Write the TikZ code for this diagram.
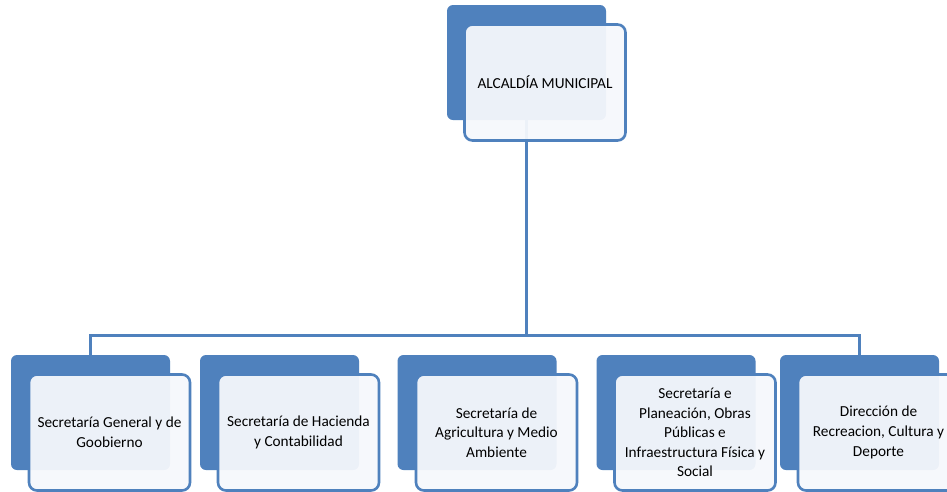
\documentclass[tikz,border=0pt]{standalone}
\usepackage{fontspec}
\setmainfont{Carlito}
\definecolor{orgblue}{HTML}{4F81BD}
\definecolor{orgfill}{RGB}{246,248,252}

\begin{document}
\begin{tikzpicture}[x=1pt, y=-1pt,
    back/.style={fill=orgblue, rounded corners=6pt, minimum width=159pt, minimum height=115pt, inner sep=0pt},
    front/.style={draw=orgblue, line width=2.6pt, fill=orgfill, fill opacity=0.94, text opacity=1,
        rounded corners=8pt, minimum width=161pt, minimum height=116pt, inner sep=0pt,
        align=center, font=\fontsize{15.3}{19.6}\selectfont},
    link/.style={orgblue, line width=3pt}]
    \useasboundingbox (0,0) rectangle (947,491);
    \clip (0,0) rectangle (947,491);
    \fill[white] (0,0) rectangle (947,491);
    \node[back] (alcaldiaB) at (526.5,62.5) {};
    \node[back] (generalB) at (90.5,412.5) {};
    \node[back] (haciendaB) at (279.5,412.5) {};
    \node[back] (agriculturaB) at (477,412.5) {};
    \node[back] (planeacionB) at (676,412.5) {};
    \node[back] (deporteB) at (859.5,412.5) {};
    \coordinate (bus) at (526.5,335);
    \draw[link] (alcaldiaB.south) -- (bus);
    \draw[link] (generalB.north) |- (bus) -| (deporteB.north);
    \node[front] (alcaldia) at (545,82.5) {ALCALDÍA MUNICIPAL};
    \node[front] (general) at (109.5,432.5) {Secretaría General y de\\Goobierno};
    \node[front] (hacienda) at (298.5,432.5) {Secretaría de Hacienda\\y Contabilidad};
    \node[front] (agricultura) at (496.5,432.5) {Secretaría de\\Agricultura y Medio\\Ambiente};
    \node[front] (planeacion) at (695,432.5) {Secretaría e\\Planeación, Obras\\Públicas e\\Infraestructura Física y\\Social};
    \node[front] (deporte) at (878.5,432.5) {Dirección de\\Recreacion, Cultura y\\Deporte};
\end{tikzpicture}
\end{document}
